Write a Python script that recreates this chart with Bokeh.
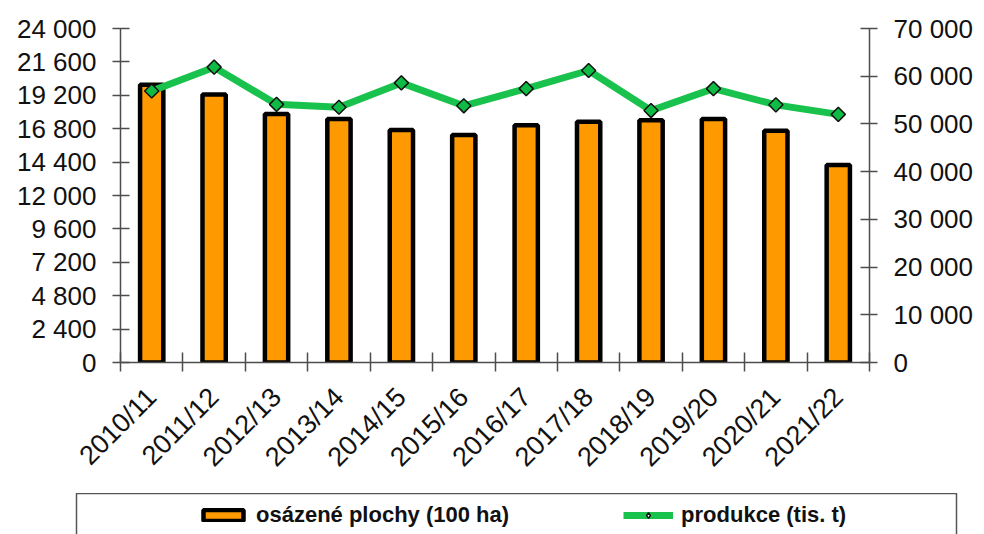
import math
from bokeh.plotting import figure
from bokeh.models import (Range1d, LinearAxis, FixedTicker, Legend, LegendItem,
                          ColumnDataSource)
from bokeh.embed import file_html
from bokeh.resources import INLINE

# ---- data ----
seasons = ["2010/11", "2011/12", "2012/13", "2013/14", "2014/15", "2015/16",
           "2016/17", "2017/18", "2018/19", "2019/20", "2020/21", "2021/22"]
area_100ha = [19950, 19250, 17850, 17500, 16700, 16350, 17050, 17300, 17400, 17500, 16650, 14200]
production_kt = [56900, 61900, 54100, 53500, 58600, 53800, 57400, 61200, 52800, 57400, 54000, 52000]
left_ticks = [0, 2400, 4800, 7200, 9600, 12000, 14400, 16800, 19200, 21600, 24000]
right_ticks = [0, 10000, 20000, 30000, 40000, 50000, 60000, 70000]
area_label = "osázené plochy (100 ha)"
prod_label = "produkce (tis. t)"

FONT = "Liberation Sans"
AXIS_COL = "#4d4d4d"
BAR_FILL = "#FF9900"
LINE_COL = "#19C24C"
MARK_FILL = "#0DBB45"

xs = list(range(len(seasons)))
src = ColumnDataSource(dict(x=xs, area=area_100ha, prod=production_kt))

p = figure(width=976, height=493, output_backend="svg", toolbar_location=None,
           x_range=Range1d(-0.5, len(seasons) - 0.5), y_range=Range1d(0, left_ticks[-1]),
           min_border_left=120, min_border_right=104, min_border_top=28, min_border_bottom=131)
p.outline_line_color = None
p.grid.visible = False
p.extra_y_ranges = {"prod": Range1d(0, right_ticks[-1])}

def fmt(v):
    return f"{v:,}".replace(",", " ")

ya = p.yaxis[0]
ya.ticker = FixedTicker(ticks=left_ticks, minor_ticks=[])
ya.major_label_overrides = {v: fmt(v) for v in left_ticks}
ra = LinearAxis(y_range_name="prod", ticker=FixedTicker(ticks=right_ticks, minor_ticks=[]))
ra.major_label_overrides = {v: fmt(v) for v in right_ticks}
p.add_layout(ra, "right")

for ax in (ya, ra):
    ax.axis_line_color = AXIS_COL
    ax.axis_line_width = 1.5
    ax.major_tick_line_color = AXIS_COL
    ax.major_tick_line_width = 1.5
    ax.major_tick_in = 9
    ax.major_tick_out = 8
    ax.minor_tick_line_color = None
    ax.major_label_standoff = 16
    ax.major_label_text_font = FONT
    ax.major_label_text_font_size = "26px"
    ax.major_label_text_color = "#111111"

xa = p.xaxis[0]
xa.ticker = FixedTicker(ticks=xs, minor_ticks=[i - 0.5 for i in range(len(seasons) + 1)])
xa.major_label_overrides = {i: s for i, s in enumerate(seasons)}
xa.major_tick_line_color = None
xa.minor_tick_line_color = AXIS_COL
xa.minor_tick_line_width = 1.5
xa.minor_tick_in = 10
xa.minor_tick_out = 9
xa.axis_line_color = AXIS_COL
xa.axis_line_width = 1.5
xa.major_label_orientation = math.pi / 4
xa.major_label_standoff = 21
xa.major_label_text_font = FONT
xa.major_label_text_font_size = "27px"
xa.major_label_text_color = "#111111"

p.vbar(x="x", top="area", width=0.373, source=src, fill_color=BAR_FILL,
       line_color="black", line_width=4.5)
p.line(x="x", y="prod", source=src, y_range_name="prod", line_color=LINE_COL, line_width=7)
p.scatter(x="x", y="prod", source=src, y_range_name="prod", marker="square",
          angle=math.pi / 4, size=10, fill_color=MARK_FILL, line_color="#111111", line_width=1.5)

# ---- legend panel (separate root so its frame is the legend box) ----
# its ranges lie far away from the data, so only the legend swatches show here
lg = figure(width=976, height=44, output_backend="svg", toolbar_location=None,
            x_range=Range1d(1000, 1012), y_range=Range1d(1e6, 2e6),
            x_axis_location=None, y_axis_location=None,
            min_border_left=76, min_border_right=20, min_border_top=0, min_border_bottom=0)
lg.grid.visible = False
lg.outline_line_color = "#555555"
lg.outline_line_width = 1.5
lb = lg.vbar(x="x", top="area", width=0.373, source=src,
             fill_color=BAR_FILL, line_color="black", line_width=4.5)
ll = lg.line(x="x", y="prod", source=src, line_color=LINE_COL, line_width=7)
lm = lg.scatter(x="x", y="prod", source=src, marker="diamond", size=12,
                fill_color="white", line_color="#111111", line_width=1.5)

legend = Legend(items=[LegendItem(label=area_label, renderers=[lb]),
                       LegendItem(label=prod_label, renderers=[ll, lm])],
                orientation="horizontal", location=(117, 4),
                padding=5, spacing=114, glyph_width=50, glyph_height=14,
                label_standoff=8, label_text_font=FONT, label_text_font_size="22px",
                label_text_font_style="bold", label_text_color="#111111",
                border_line_alpha=0, background_fill_alpha=0)
lg.add_layout(legend, "center")

open("out.html", "w").write(file_html([p, lg], INLINE))
